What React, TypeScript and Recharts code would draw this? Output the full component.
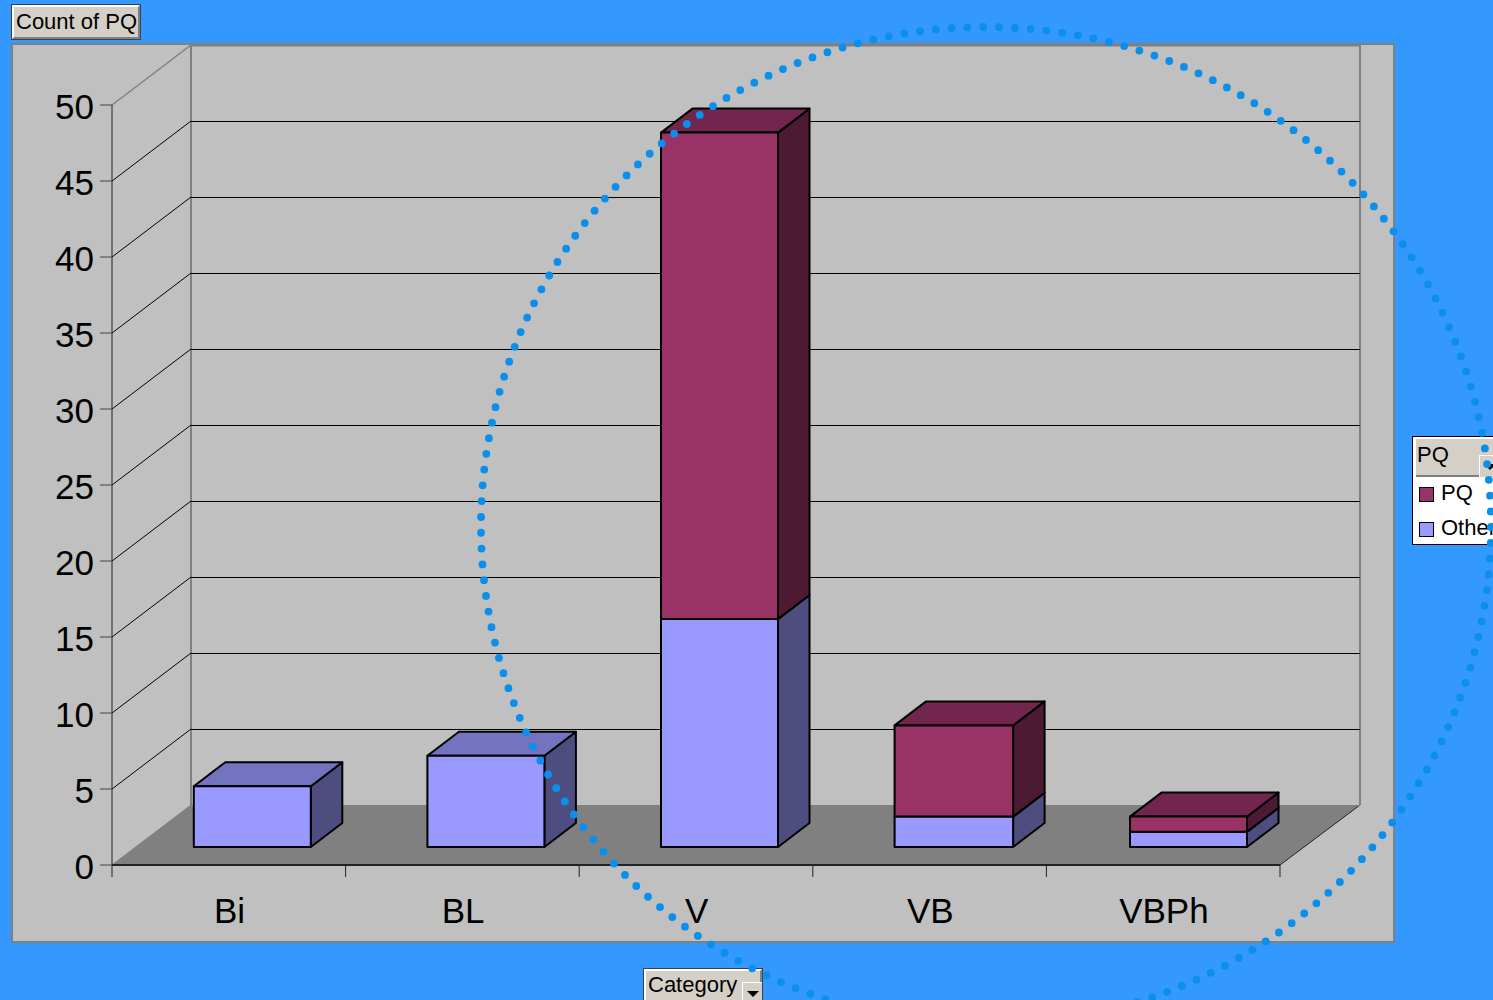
import { Bar, BarChart, CartesianGrid, Legend, XAxis, YAxis } from 'recharts';

const categories = ['Bi', 'BL', 'V', 'VB', 'VBPh'];
const otherValues = [4, 6, 15, 2, 1];
const pqValues = [0, 0, 32, 6, 1];
const yTicks = [0, 5, 10, 15, 20, 25, 30, 35, 40, 45, 50];

const data = categories.map((category, i) => ({
  category,
  Other: otherValues[i],
  PQ: pqValues[i],
}));

const FONT = '"Liberation Sans", Arial, sans-serif';
const W = 1493;
const H = 1000;
const LEFT = 112;
const RIGHT = 1280;
const TOP = 105;
const BOTTOM = 865;
const WALL_DX = 79;
const WALL_DY = -60;
const BAR_DX = 23.8;
const BAR_DY = -18;
const DEPTH_X = 31.5;
const DEPTH_Y = -24;
const BAND = (RIGHT - LEFT) / categories.length;

const PQ_COLORS = { front: '#993366', top: '#73264d', side: '#4d1a33' };
const OTHER_COLORS = { front: '#9999ff', top: '#7373bf', side: '#4d4d80' };

// stacked segment drawn as a box, shifted back onto the floor
function Box({ x, y, width, height, colors, index }: any) {
  if (!height || height <= 0) return null;
  // the source's boxes are not evenly rounded onto the band
  const l = x + BAR_DX + (index === 4 ? 1.8 : 0);
  const t = y + BAR_DY;
  const r = l + width + (index === 3 ? 1.5 : 0);
  const b = t + height;
  const stroke = { stroke: '#000', strokeWidth: 2, strokeLinejoin: 'round' as const };
  return (
    <g>
      <polygon
        points={`${r},${t} ${r + DEPTH_X},${t + DEPTH_Y} ${r + DEPTH_X},${b + DEPTH_Y} ${r},${b}`}
        fill={colors.side}
        {...stroke}
      />
      <polygon
        points={`${l},${t} ${l + DEPTH_X},${t + DEPTH_Y} ${r + DEPTH_X},${t + DEPTH_Y} ${r},${t}`}
        fill={colors.top}
        {...stroke}
      />
      <rect x={l} y={t} width={r - l} height={height} fill={colors.front} {...stroke} />
    </g>
  );
}

function GridLine({ y1 }: any) {
  const isTop = Math.abs(y1 - TOP) < 1;
  const isBottom = Math.abs(y1 - BOTTOM) < 1;
  const color = isTop || isBottom ? '#808080' : '#000';
  const backY = y1 + WALL_DY + 0.5;
  return (
    <g>
      <line x1={LEFT} y1={y1} x2={LEFT + WALL_DX} y2={y1 + WALL_DY} stroke={color} strokeWidth={isTop ? 1.5 : 1} />
      <line
        x1={LEFT + WALL_DX}
        y1={backY}
        x2={RIGHT + WALL_DX + 1}
        y2={backY}
        stroke={color}
        strokeWidth={isTop ? 2 : 1}
      />
    </g>
  );
}

function YTick({ y, payload }: any) {
  return (
    <g>
      <line x1={LEFT - 12} y1={y} x2={LEFT} y2={y} stroke="#444" strokeWidth={1} />
      <text x={94} y={y + 13.5} textAnchor="end" fontFamily={FONT} fontSize={35} fill="#000">
        {payload.value}
      </text>
    </g>
  );
}

function XTick({ x, payload, index }: any) {
  const start = x - BAND / 2;
  return (
    <g>
      <line x1={start} y1={BOTTOM} x2={start} y2={BOTTOM + 12} stroke="#222" strokeWidth={1} />
      {index === categories.length - 1 && (
        <line x1={start + BAND} y1={BOTTOM} x2={start + BAND} y2={BOTTOM + 12} stroke="#222" strokeWidth={1} />
      )}
      <text x={x + 0.7} y={922.5} textAnchor="middle" fontFamily={FONT} fontSize={35} fill="#000">
        {payload.value}
      </text>
    </g>
  );
}

function FieldButton({ label, style }: any) {
  return (
    <div
      style={{
        position: 'absolute',
        boxSizing: 'border-box',
        background: '#d4d0c8',
        borderTop: '2px solid #fff',
        borderLeft: '2px solid #fff',
        borderRight: '2px solid #808080',
        borderBottom: '2px solid #808080',
        outline: '1px solid #404040',
        fontFamily: FONT,
        fontSize: 22,
        color: '#000',
        whiteSpace: 'nowrap',
        ...style,
      }}
    >
      {label}
    </div>
  );
}

function DropArrow({ style }: any) {
  return (
    <div
      style={{
        position: 'absolute',
        boxSizing: 'border-box',
        width: 20,
        height: 22,
        background: '#d4d0c8',
        borderTop: '1px solid #fff',
        borderLeft: '1px solid #fff',
        ...style,
      }}
    >
      <div
        style={{
          position: 'absolute',
          left: 4,
          top: 8,
          width: 0,
          height: 0,
          borderLeft: '6px solid transparent',
          borderRight: '6px solid transparent',
          borderTop: '6px solid #000',
        }}
      />
    </div>
  );
}

function PivotLegend({ payload }: any) {
  const items = [...(payload || [])].reverse();
  return (
    <div
      style={{
        position: 'relative',
        boxSizing: 'border-box',
        width: 110,
        height: 109,
        background: '#fff',
        border: '1px solid #000',
        fontFamily: FONT,
        fontSize: 22,
        color: '#000',
      }}
    >
      <div
        style={{
          position: 'absolute',
          left: 3,
          top: 2,
          right: 0,
          height: 36,
          lineHeight: '31px',
          background: '#d4d0c8',
          borderBottom: '2px solid #808080',
          paddingLeft: 1,
        }}
      >
        PQ
      </div>
      <DropArrow style={{ left: 66, top: 18 }} />
      {items.map((item: any, i: number) => (
        <div key={item.value} style={{ position: 'absolute', left: 6, top: 43 + i * 35, whiteSpace: 'nowrap' }}>
          <span
            style={{
              position: 'absolute',
              left: 0,
              top: 7,
              boxSizing: 'border-box',
              width: 15,
              height: 15,
              background: item.color,
              border: '1.5px solid #000',
            }}
          />
          <span style={{ position: 'absolute', left: 22, top: 0 }}>{item.value}</span>
        </div>
      ))}
    </div>
  );
}

export default function App() {
  return (
    <div style={{ position: 'absolute', left: 0, top: 0, width: W, height: H, overflow: 'hidden', background: '#3399ff' }}>
      <svg width={W} height={H} style={{ position: 'absolute', left: 0, top: 0 }}>
        <rect x={12} y={44} width={1382} height={898} fill="#c0c0c0" stroke="#808080" strokeWidth={2} />
        <polygon
          points={`${LEFT},${BOTTOM} ${LEFT + WALL_DX},${BOTTOM + WALL_DY} ${RIGHT + WALL_DX + 1},${BOTTOM + WALL_DY} ${RIGHT},${BOTTOM}`}
          fill="#808080"
        />
        <line x1={LEFT + WALL_DX} y1={TOP + WALL_DY} x2={LEFT + WALL_DX} y2={BOTTOM + WALL_DY} stroke="#808080" strokeWidth={2} />
        <line x1={RIGHT + WALL_DX + 1} y1={TOP + WALL_DY} x2={RIGHT + WALL_DX + 1} y2={BOTTOM + WALL_DY} stroke="#808080" strokeWidth={2} />
        <line x1={RIGHT} y1={BOTTOM} x2={RIGHT + WALL_DX + 1} y2={BOTTOM + WALL_DY} stroke="#222" strokeWidth={1} />
      </svg>
      <div style={{ position: 'absolute', left: 0, top: 0 }}>
        <BarChart
          width={W}
          height={H}
          data={data}
          margin={{ top: TOP, right: W - RIGHT, bottom: 0, left: 0 }}
          barSize={117}
        >
          <CartesianGrid vertical={false} horizontal={(props: any) => <GridLine key={props.key ?? props.y1} {...props} />} />
          <XAxis
            dataKey="category"
            height={H - BOTTOM}
            interval={0}
            tickLine={false}
            tick={XTick}
            axisLine={{ stroke: '#222', strokeWidth: 2 }}
          />
          <YAxis
            width={LEFT}
            domain={[0, 50]}
            ticks={yTicks}
            interval={0}
            tickLine={false}
            tick={YTick}
            axisLine={{ stroke: '#222', strokeWidth: 1 }}
          />
          <Bar
            dataKey="Other"
            stackId="count"
            fill={OTHER_COLORS.front}
            isAnimationActive={false}
            shape={(props: any) => <Box {...props} colors={OTHER_COLORS} />}
          />
          <Bar
            dataKey="PQ"
            stackId="count"
            fill={PQ_COLORS.front}
            isAnimationActive={false}
            shape={(props: any) => <Box {...props} colors={PQ_COLORS} />}
          />
          <Legend
            layout="vertical"
            align="center"
            verticalAlign="middle"
            wrapperStyle={{ left: 1412, top: 436, width: 110, height: 109, bottom: 'auto', right: 'auto' }}
            content={PivotLegend}
          />
        </BarChart>
      </div>
      <FieldButton label="Count of PQ" style={{ left: 12, top: 5, width: 128, height: 34, paddingLeft: 2, lineHeight: '29px' }} />
      <FieldButton
        label="Category"
        style={{ left: 644, top: 969, width: 118, height: 40, paddingLeft: 2, lineHeight: '28px', borderBottom: 'none' }}
      />
      <DropArrow style={{ left: 742, top: 982 }} />
      <svg width={W} height={H} style={{ position: 'absolute', left: 0, top: 0, pointerEvents: 'none' }}>
        <ellipse
          cx={986}
          cy={526}
          rx={505}
          ry={499}
          fill="none"
          stroke="#0a8fec"
          strokeWidth={7.8}
          strokeLinecap="round"
          strokeDasharray="0 15.85"
          strokeDashoffset={-1}
        />
      </svg>
    </div>
  );
}
